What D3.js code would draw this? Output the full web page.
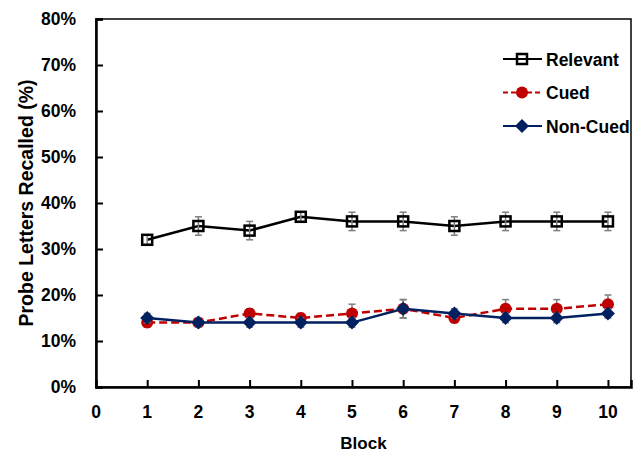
<!DOCTYPE html>
<html>
<head>
<meta charset="utf-8">
<script src="https://cdn.jsdelivr.net/npm/d3@7"></script>
<style>
  html, body { margin: 0; padding: 0; background: #fff; }
  svg { display: block; }
  text { font-family: "Liberation Sans", Arial, sans-serif; font-weight: bold; fill: #000; }
</style>
</head>
<body>
<svg width="640" height="452"></svg>
<script>
const blocks      = [1, 2, 3, 4, 5, 6, 7, 8, 9, 10];
const relevant    = [32, 35, 34, 37, 36, 36, 35, 36, 36, 36];
const relevantErr = [1, 2, 2, 1, 2, 2, 2, 2, 2, 2];
const cued        = [14, 14, 16, 15, 16, 17, 15, 17, 17, 18];
const cuedErr     = [1, 1, 1, 1, 2, 2, 1, 2, 2, 2];
const nonCued     = [15, 14, 14, 14, 14, 17, 16, 15, 15, 16];
const nonCuedErr  = [1, 1, 1, 1, 1, 2, 1, 1, 1, 1];
const xTicks      = [0, 1, 2, 3, 4, 5, 6, 7, 8, 9, 10];
const yTicks      = [0, 10, 20, 30, 40, 50, 60, 70, 80];

const plotLeft = 96, plotRight = 631, plotTop = 19, plotBottom = 387;

const svg = d3.select("svg");

const xScale = d3.scaleLinear().domain([0, 10.45]).range([plotLeft, plotRight]);
const yScale = d3.scaleLinear().domain([0, 80]).range([plotBottom, plotTop]);

// plot frame
svg.append("rect")
   .attr("x", plotLeft).attr("y", plotTop)
   .attr("width", plotRight - plotLeft).attr("height", plotBottom - plotTop)
   .attr("fill", "none").attr("stroke", "#000").attr("stroke-width", 1.5);

// axes (inward ticks)
const yAxis = svg.append("g")
   .attr("transform", `translate(${plotLeft},0)`)
   .call(d3.axisRight(yScale).tickValues(yTicks).tickSize(7).tickFormat(""));
yAxis.select(".domain").attr("stroke-width", 2.5);
yAxis.selectAll(".tick line").attr("stroke-width", 2);

const xAxis = svg.append("g")
   .attr("transform", `translate(0,${plotBottom})`)
   .call(d3.axisTop(xScale).tickValues(blocks).tickSize(7).tickFormat(""));
xAxis.select(".domain").attr("stroke-width", 2.5);
xAxis.selectAll(".tick line").attr("stroke-width", 2);

svg.selectAll(".ylab")
   .data(yTicks)
   .enter()
   .append("text")
   .attr("class", "ylab")
   .attr("x", 76)
   .attr("y", d => yScale(d) + 6)
   .attr("text-anchor", "end")
   .style("font-size", "17.5px")
   .text(d => d + "%");

svg.selectAll(".xlab")
   .data(xTicks)
   .enter()
   .append("text")
   .attr("class", "xlab")
   .attr("x", d => xScale(d))
   .attr("y", 418)
   .attr("text-anchor", "middle")
   .style("font-size", "17.5px")
   .text(d => d);

svg.append("text")
   .attr("x", (plotLeft + plotRight) / 2)
   .attr("y", 449)
   .attr("text-anchor", "middle")
   .style("font-size", "17px")
   .text("Block");

svg.append("text")
   .attr("transform", `translate(33,${(plotTop + plotBottom) / 2}) rotate(-90)`)
   .attr("text-anchor", "middle")
   .style("font-size", "19.5px")
   .text("Probe Letters Recalled (%)");

const series = [
  { name: "Relevant", values: relevant, err: relevantErr, color: "#000000", dash: null, marker: "square" },
  { name: "Cued", values: cued, err: cuedErr, color: "#C00000", dash: "8,4", marker: "circle" },
  { name: "Non-Cued", values: nonCued, err: nonCuedErr, color: "#002060", dash: null, marker: "diamond" }
];

const drawMarker = (g, s, x, y) => {
  if (s.marker === "square") {
    g.append("rect")
     .attr("x", x - 5).attr("y", y - 5)
     .attr("width", 10).attr("height", 10)
     .attr("fill", "none").attr("stroke", s.color).attr("stroke-width", 2.5);
  } else if (s.marker === "circle") {
    g.append("circle")
     .attr("cx", x).attr("cy", y).attr("r", 6)
     .attr("fill", s.color);
  } else {
    g.append("path")
     .attr("d", `M${x},${y - 7}L${x + 7},${y}L${x},${y + 7}L${x - 7},${y}Z`)
     .attr("fill", s.color);
  }
};

const line = d3.line()
  .x((d, i) => xScale(blocks[i]))
  .y(d => yScale(d));

series.forEach(s => {
  const g = svg.append("g");

  g.append("path")
   .datum(s.values)
   .attr("d", line)
   .attr("fill", "none")
   .attr("stroke", s.color)
   .attr("stroke-width", 2.5)
   .attr("stroke-dasharray", s.dash);

  // error bars
  s.values.forEach((v, i) => {
    const x = xScale(blocks[i]);
    const y1 = yScale(v - s.err[i]), y2 = yScale(v + s.err[i]);
    g.append("line").attr("x1", x).attr("x2", x).attr("y1", y1).attr("y2", y2)
     .attr("stroke", "#7f7f7f").attr("stroke-width", 1.5);
    [y1, y2].forEach(yy => {
      g.append("line").attr("x1", x - 3.5).attr("x2", x + 3.5).attr("y1", yy).attr("y2", yy)
       .attr("stroke", "#7f7f7f").attr("stroke-width", 1.5);
    });
  });

  s.values.forEach((v, i) => drawMarker(g, s, xScale(blocks[i]), yScale(v)));
});

// legend
const legend = svg.selectAll(".legend")
  .data(series)
  .enter()
  .append("g")
  .attr("class", "legend")
  .attr("transform", (d, i) => `translate(0,${59 + i * 33.5})`);

legend.append("line")
  .attr("x1", 503).attr("x2", 542).attr("y1", 0).attr("y2", 0)
  .attr("stroke", d => d.color)
  .attr("stroke-width", 2)
  .attr("stroke-dasharray", d => d.dash ? "5,3" : null);

legend.each(function (d) {
  drawMarker(d3.select(this), d, 522, 0);
});

legend.append("text")
  .attr("x", 546)
  .attr("y", 6.5)
  .style("font-size", "17.5px")
  .text(d => d.name);
</script>
</body>
</html>
